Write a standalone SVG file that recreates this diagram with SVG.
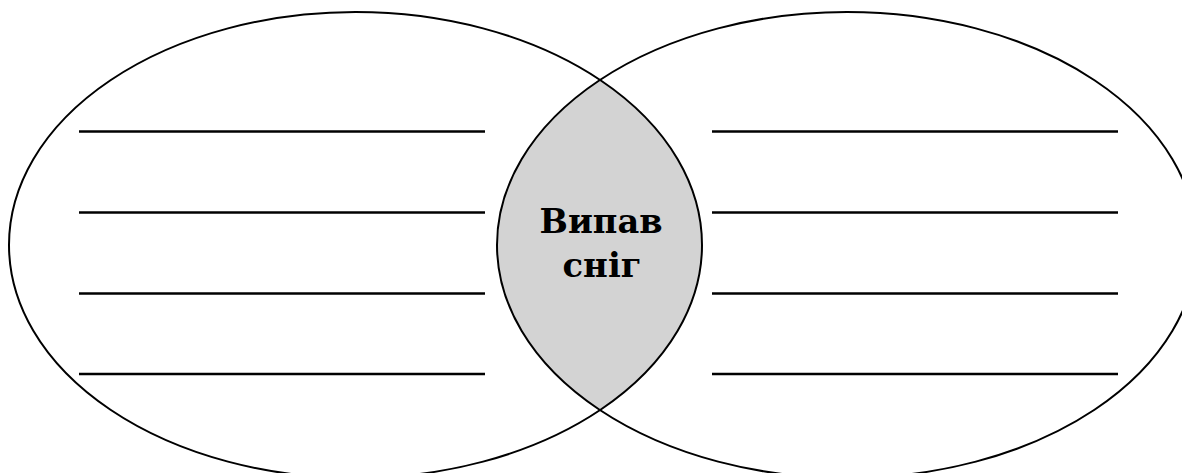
<svg xmlns="http://www.w3.org/2000/svg" width="1182" height="473" viewBox="0 0 1182 473">
<style>
.outline{fill:none;stroke:#000;stroke-width:2}
.line{stroke:#000;stroke-width:2.4}
.label{font-family:"DejaVu Serif","Liberation Serif",serif;font-weight:bold;font-size:34px;fill:#000;text-anchor:middle}
</style>
<defs>
<clipPath id="leftClip"><ellipse cx="355.5" cy="245" rx="346.5" ry="233"/></clipPath>
</defs>
<rect width="1182" height="473" fill="#fff"/>
<g id="intersection">
<ellipse cx="847" cy="245" rx="350" ry="233" fill="#d3d3d3" clip-path="url(#leftClip)"/>
<text class="label" x="601" y="233" textLength="123" lengthAdjust="spacingAndGlyphs">Випав</text>
<text class="label" x="602" y="277" textLength="79" lengthAdjust="spacingAndGlyphs">сніг</text>
</g>
<g id="left-circle">
<ellipse class="outline" cx="355.5" cy="245" rx="346.5" ry="233"/>
<line class="line" x1="79" y1="131.5" x2="485" y2="131.5"/>
<line class="line" x1="79" y1="212.5" x2="485" y2="212.5"/>
<line class="line" x1="79" y1="293.5" x2="485" y2="293.5"/>
<line class="line" x1="79" y1="374" x2="485" y2="374"/>
</g>
<g id="right-circle">
<ellipse class="outline" cx="847" cy="245" rx="350" ry="233"/>
<line class="line" x1="712" y1="131.5" x2="1118" y2="131.5"/>
<line class="line" x1="712" y1="212.5" x2="1118" y2="212.5"/>
<line class="line" x1="712" y1="293.5" x2="1118" y2="293.5"/>
<line class="line" x1="712" y1="374" x2="1118" y2="374"/>
</g>
<g id="connectors"></g>
</svg>
